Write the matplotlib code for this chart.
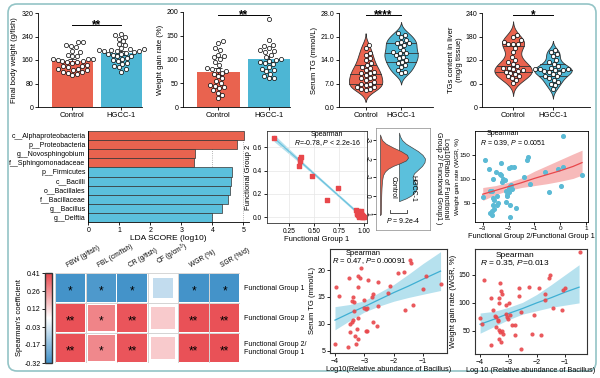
import numpy as np
import matplotlib
matplotlib.use('Agg')
import matplotlib.pyplot as plt
from matplotlib.patches import Rectangle, FancyBboxPatch
from matplotlib.colors import LinearSegmentedColormap, Normalize
from matplotlib.cm import ScalarMappable

plt.rcParams['font.family'] = ['Liberation Sans', 'DejaVu Sans']
plt.rcParams['font.size'] = 5
plt.rcParams['mathtext.fontset'] = 'custom'
plt.rcParams['mathtext.it'] = 'Liberation Sans:italic'
plt.rcParams['mathtext.rm'] = 'Liberation Sans'
plt.rcParams['axes.linewidth'] = 0.6
for a in ['xtick', 'ytick']:
    plt.rcParams[a + '.major.size'] = 2
    plt.rcParams[a + '.major.width'] = 0.6
    plt.rcParams[a + '.major.pad'] = 1.5
    plt.rcParams[a + '.labelsize'] = 5

RED = '#E9634F'
BLUE = '#4DB6D4'

# ---- data: top row ----
groups = ['Control', 'HGCC-1']
fbw_ctrl = [222, 220, 212, 208, 205, 192, 188, 178, 175, 172, 165, 163, 162, 160, 156, 155,
            154, 152, 150, 142, 140, 138, 136, 130, 128, 127, 125, 120, 118, 115, 112, 110]
fbw_hgcc = [250, 245, 240, 232, 225, 215, 210, 200, 198, 196, 195, 194, 192, 190, 190, 188,
            185, 182, 180, 178, 175, 172, 168, 165, 160, 155, 150, 148, 140, 135, 128, 120]
wgr_ctrl = [138, 135, 125, 120, 110, 107, 105, 100, 95, 88, 82, 80, 78, 75, 72, 70, 65, 60,
            55, 50, 46, 45, 42, 40, 35, 30, 25, 18]
wgr_hgcc = [185, 140, 130, 128, 125, 120, 118, 115, 110, 105, 100, 98, 97, 95, 92, 90, 85,
            80, 78, 75, 70, 65, 62, 60]
tg_ctrl = [18.5, 17.5, 16, 15.5, 14.5, 14, 13, 12.5, 12, 11.5, 11, 10.5, 10, 10, 9.5, 9,
           8.5, 8.5, 8, 7.5, 7, 7, 6.5, 6, 6, 5.5, 5.5, 5]
tg_hgcc = [22, 21.5, 21, 20, 19.5, 19, 19, 18.5, 18, 17, 16.5, 16, 16, 15.5, 15, 14.5, 14,
           13.5, 13, 12.5, 12, 11, 10.5, 10]
liver_ctrl = [185, 178, 170, 165, 162, 160, 160, 150, 140, 128, 120, 115, 110, 105, 100, 100,
              98, 95, 92, 90, 88, 85, 80, 78, 75, 70, 62]
liver_hgcc = [145, 140, 135, 130, 120, 115, 110, 105, 100, 98, 97, 96, 95, 95, 92, 90, 88,
              85, 80, 78, 75, 70, 65, 60, 55, 45]

# ---- data: LEfSe ----
lda_taxa = ['c__Alphaproteobacteria', 'p__Proteobacteria', 'g__Novosphingobium',
            'f__Sphingomonadaceae', 'p__Firmicutes', 'c__Bacilli', 'o__Bacillales',
            'f__Bacillaceae', 'g__Bacillus', 'g__Delftia']
lda_score = [5.03, 4.79, 3.43, 3.41, 4.65, 4.61, 4.57, 4.52, 4.32, 4.0]
lda_group = ['Control'] * 4 + ['HGCC-1'] * 6

# ---- data: functional group scatter ----
fg1 = [0.10, 0.35, 0.36, 0.36, 0.37, 0.48, 0.63, 0.74, 0.92, 0.93, 0.94, 0.94, 0.95, 0.95,
       0.96, 0.96, 0.97, 0.97, 0.98, 0.98, 0.99, 0.99, 1.0, 0.93, 0.95, 0.97]
fg2 = [0.68, 0.44, 0.48, 0.50, 0.52, 0.35, 0.15, 0.25, 0.06, 0.04, 0.05, 0.02, 0.03, 0.01,
       0.04, 0.02, 0.01, 0.03, 0.00, 0.02, 0.01, 0.00, 0.00, 0.03, 0.00, 0.05]
fg_fit_x = [0.10, 0.40, 0.70, 1.00]
fg_fit_y = [0.68, 0.45, 0.22, -0.01]
fg_fit_lo = [0.65, 0.435, 0.208, -0.024]
fg_fit_hi = [0.71, 0.465, 0.232, 0.004]

# ---- data: ratio density ----
ctrl_ratio = [-3.3, -3.0, -2.8, -2.6, -2.4, -2.2, -2.05, -1.9, -1.75, -1.6, -1.45, -1.3,
              -1.1, -0.8, -0.4, 0.0, 0.5, 1.0, 1.05]
ctrl_dens = [0, 2, 6, 13, 21, 27, 28, 26, 20, 13, 8, 5, 3, 2, 1.5, 1.2, 1, 0.8, 0]
hgcc_ratio = [-3.4, -3.2, -3.0, -2.8, -2.6, -2.4, -2.2, -2.0, -1.8, -1.6, -1.4, -1.2, -1.0,
              -0.8, -0.6, -0.4, -0.2, 0.0, 0.15, 0.3]
hgcc_dens = [0, 1, 3, 7, 13, 19, 23.5, 26, 25.5, 23, 19, 15, 13.5, 15, 17.5, 17.5, 16, 12, 7, 0]

# ---- data: WGR vs ratio ----
ratio_x = [-3.0, -2.9, -2.75, -2.6, -2.65, -2.6, -2.55, -2.6, -2.65, -2.7, -2.65, -2.55, -2.45,
           -2.4, -2.35, -2.3, -2.3, -2.2, -2.15, -2.25, -2.1, -2.05, -2.0, -1.95, -1.9, -2.0,
           -1.85, -2.5, -2.0, -1.9, -1.8, -2.05, -1.95, -1.95, -1.7, -1.4, -1.3, -1.25, -1.15,
           -0.6, -0.1, 0.1, 0.05, -0.45, 0.85, 0.1, -2.45, -2.7, -2.1]
ratio_wgr = [62, 140, 121, 100, 75, 60, 55, 45, 32, 28, 25, 38, 45, 50, 110, 108, 133, 100, 97,
             93, 75, 67, 72, 85, 88, 80, 78, 115, 122, 125, 125, 65, 45, 20, 40, 105, 140, 145,
             90, 115, 120, 125, 85, 72, 108, 190, 65, 75, 52]
ratio_fit_x = [-3, -2.5, -2, -1.5, -1, -0.5, 0, 0.5, 0.85]
ratio_fit_y = [68, 76, 84, 92, 101, 109, 117, 126, 134]
ratio_fit_lo = [55, 67, 76, 82, 86, 90, 95, 101, 108]
ratio_fit_hi = [82, 86, 93, 102, 116, 128, 140, 152, 160]

# ---- data: correlation heatmap ----
traits = ['FBW (g/fish)', 'FBL (cm/fish)', 'CR (g/fish)', 'CF (g/cm$^3$)', 'WGR (%)', 'SGR (%/d)']
fgroups = ['Functional Group 1', 'Functional Group 2', 'Functional Group 2/\nFunctional Group 1']
rho = [[-0.31, -0.29, -0.31, -0.07, -0.31, -0.31],
       [0.39, 0.29, 0.38, 0.15, 0.39, 0.39],
       [0.39, 0.28, 0.38, 0.15, 0.39, 0.39]]
sig = [['*', '*', '*', '', '*', '*'],
       ['**', '*', '**', '', '**', '**'],
       ['**', '*', '**', '', '**', '**']]
cb_ticks = [0.41, 0.26, 0.12, -0.03, -0.17, -0.32]

# ---- data: Bacillus scatters ----
bac_tg_x = [-4.0, -3.96, -3.85, -3.52, -3.57, -3.49, -3.49, -3.41, -3.43, -3.38, -3.34, -3.34,
            -3.38, -3.32, -3.28, -3.24, -3.2, -3.2, -3.2, -3.2, -3.15, -3.11, -3.0, -3.0, -2.95,
            -2.92, -2.94, -2.9, -2.89, -2.75, -2.71, -2.69, -2.56, -2.52, -2.54, -2.18, -2.12,
            -1.84, -1.65, -1.61, -1.44, -1.42, -1.33, -1.01, -0.9, -0.4]
bac_tg_y = [6.2, 16.9, 15.1, 18.6, 5.7, 8.5, 9.9, 10.4, 14.2, 15.0, 14.0, 12.4, 10.7, 7.8, 6.2,
            9.0, 7.2, 11.1, 16.9, 18.9, 18.6, 20.3, 14.5, 12.9, 8.7, 8.6, 12.8, 13.0, 18.2, 14.9,
            15.5, 10.4, 9.7, 13.3, 17.8, 15.7, 17.1, 19.4, 19.7, 12.5, 21.9, 21.3, 13.6, 16.5,
            18.9, 17.4]
bac_tg_fit_x = [-4, -3.5, -3, -2.5, -2, -1.5, -1, -0.4]
bac_tg_fit_y = [10.7, 12.0, 13.2, 14.5, 15.8, 17.0, 18.3, 19.8]
bac_tg_fit_lo = [8.9, 10.6, 12.2, 13.3, 14.2, 14.9, 15.5, 16.2]
bac_tg_fit_hi = [13.2, 13.6, 14.3, 15.8, 17.3, 19.2, 21.2, 23.4]

bac_wgr_x = [-4.0, -3.94, -3.85, -3.6, -3.6, -3.53, -3.49, -3.43, -3.43, -3.37, -3.35, -3.34,
             -3.32, -3.32, -3.32, -3.29, -3.27, -3.29, -3.27, -3.23, -3.21, -3.19, -3.1, -3.08,
             -3.04, -3.0, -2.98, -2.96, -2.87, -2.77, -2.75, -2.63, -2.61, -2.54, -2.54, -2.26,
             -2.09, -2.17, -1.92, -1.83, -1.72, -1.72, -1.56, -1.54, -1.42, -1.1, -1.06, -1.0,
             -0.47]
bac_wgr_y = [73, 62, 140, 25, 108, 88, 77, 75, 57, 70, 68, 100, 108, 51, 35, 48, 30, 135, 121,
             115, 50, 44, 97, 80, 75, 72, 100, 78, 61, 43, 61, 127, 113, 18, 84, 129, 78, 44,
             127, 43, 115, 105, 145, 150, 91, 88, 123, 127, 190]
bac_wgr_fit_x = [-4, -3.5, -3, -2.5, -2, -1.5, -1, -0.5]
bac_wgr_fit_y = [62, 71, 81, 90, 100, 109, 119, 128]
bac_wgr_fit_lo = [46, 58, 70, 80, 86, 92, 96, 100]
bac_wgr_fit_hi = [82, 85, 92, 101, 115, 132, 150, 168]

W, H = 600, 378
fig = plt.figure(figsize=(6, 3.78), dpi=100)


def ax_px(l, t, r, b, **kw):
    return fig.add_axes([l / W, 1 - b / H, (r - l) / W, (b - t) / H], **kw)


# outer rounded frame
bg = ax_px(0, 0, W, H, zorder=-10)
bg.set_xlim(0, W)
bg.set_ylim(H, 0)
bg.axis('off')
bg.add_patch(FancyBboxPatch((8, 4), 588, 367, boxstyle='round,pad=0,rounding_size=9',
                            fc='white', ec='#93c4c6', lw=1.2))


def swarm(ax, x0, vals, d=5.0):
    vals = np.asarray(vals, float)
    t = ax.transData
    ypx = t.transform(np.c_[np.zeros(len(vals)), vals])[:, 1]
    sx = t.transform((1, 0))[0] - t.transform((0, 0))[0]
    xs = np.zeros(len(vals))
    placed = []
    for i in np.argsort(ypx):
        cands = [0.0]
        for px, py in placed:
            dy = ypx[i] - py
            if abs(dy) < d:
                dx = np.sqrt(d * d - dy * dy)
                cands += [px + dx, px - dx]
        cands.sort(key=abs)
        for c in cands:
            if all((c - px) ** 2 + (ypx[i] - py) ** 2 >= d * d - 1e-6 for px, py in placed):
                xs[i] = c
                break
        placed.append((xs[i], ypx[i]))
    return x0 + xs / sx


def clean(ax):
    ax.spines['top'].set_visible(False)
    ax.spines['right'].set_visible(False)


def sig_line(ax, y, stars):
    ax.plot([0, 1], [y, y], color='black', lw=0.7, clip_on=False)
    ax.annotate(stars, (0.5, y), xytext=(0, -2.2), textcoords='offset points',
                ha='center', va='baseline', fontsize=8.5, fontweight='bold',
                annotation_clip=False)


def bar_panel(ax, ctrl, hgcc, ymax, ticks, ylabel, stars, sig_y):
    ax.set_xlim(-0.7, 1.42)
    ax.set_ylim(0, ymax)
    ax.set_yticks(ticks)
    for i, (v, c) in enumerate([(ctrl, RED), (hgcc, BLUE)]):
        m = np.mean(v)
        se = np.std(v, ddof=1) / np.sqrt(len(v))
        ax.bar(i, m, width=0.84, color=c, zorder=1)
        ax.errorbar(i, m, yerr=se, color='#222', capsize=3, lw=0.6, capthick=0.6, zorder=3)
        ax.scatter(swarm(ax, i, v), v, s=9, fc='white', ec='black', lw=0.5, zorder=4,
                   clip_on=False)
    ax.set_xticks([0, 1])
    ax.set_xticklabels(groups, fontsize=5.5)
    ax.set_ylabel(ylabel, fontsize=5.5, labelpad=2)
    clean(ax)
    sig_line(ax, sig_y, stars)


def violin_panel(ax, ctrl, hgcc, ymax, ticks, fmt, ylabel, stars, sig_y, xlim):
    ax.set_xlim(*xlim)
    ax.set_ylim(0, ymax)
    ax.set_yticks(ticks)
    ax.set_yticklabels([fmt % t for t in ticks])
    for i, (v, c) in enumerate([(ctrl, RED), (hgcc, BLUE)]):
        v = np.asarray(v, float)
        bw = 0.8 * v.std(ddof=1) * len(v) ** -0.2
        ys = np.linspace(v.min() - 2.2 * bw, v.max() + 2.2 * bw, 200)
        dens = np.exp(-0.5 * ((ys[:, None] - v[None, :]) / bw) ** 2).sum(1)
        dens = np.clip(dens - min(dens[0], dens[-1]), 0, None)
        dens = dens / dens.max() * 0.47
        ax.fill_betweenx(ys, i - dens, i + dens, color=c, ec='#333', lw=0.6, zorder=2)
        for q in np.percentile(v, [25, 50, 75]):
            w = np.interp(q, ys, dens)
            ax.plot([i - w, i + w], [q, q], color='#333', lw=0.6, zorder=3)
        ax.scatter(swarm(ax, i, v, 4.6), v, s=9, fc='white', ec='black', lw=0.5, zorder=4)
    ax.set_xticks([0, 1])
    ax.set_xticklabels(groups, fontsize=5.5)
    ax.set_ylabel(ylabel, fontsize=5.5, labelpad=2)
    clean(ax)
    sig_line(ax, sig_y, stars)


ax1 = ax_px(38, 13, 142, 107)
bar_panel(ax1, fbw_ctrl, fbw_hgcc, 320, [0, 80, 160, 240, 320],
          'Final body weight (g/fish)', '**', 280)
ax2 = ax_px(183, 12, 290, 107)
bar_panel(ax2, wgr_ctrl, wgr_hgcc, 200, [0, 50, 100, 150, 200],
          'Weight gain rate (%)', '**', 193)
ax3 = ax_px(339, 13, 433, 107)
violin_panel(ax3, tg_ctrl, tg_hgcc, 28, [0, 7, 14, 21, 28], '%.1f',
             'Serum TG (mmol/L)', '****', 27.3, (-0.75, 1.9))
ax4 = ax_px(482, 13, 590, 107)
violin_panel(ax4, liver_ctrl, liver_hgcc, 240, [0, 60, 120, 180, 240], '%d',
             'TGs content in liver\n(mg/g tissue)', '*', 235, (-0.78, 1.93))

# ---- LDA bars ----
axl = ax_px(88.3, 131, 248.6, 222)
ypos = np.arange(len(lda_taxa))
cols = [RED if g == 'Control' else '#5BC0DC' for g in lda_group]
axl.barh(ypos, lda_score, height=1.0, color=cols, ec='#333', lw=0.5, zorder=2)
axl.set_ylim(len(lda_taxa) - 0.5, -0.5)
axl.set_xlim(0, 5.17)
axl.set_yticks(ypos)
axl.set_yticklabels(lda_taxa, fontsize=5)
axl.tick_params(axis='y', length=0, pad=2)
axl.set_xticks([0, 1, 2, 3, 4, 5])
axl.grid(axis='x', ls=':', color='#999', lw=0.6, zorder=0)
axl.set_xlabel('LDA SCORE (log10)', fontsize=6, labelpad=1)
clean(axl)

# ---- FG1 vs FG2 scatter ----
axs1 = ax_px(267, 131, 367, 223)
axs1.set_xlim(0.03, 1.03)
axs1.set_ylim(-0.05, 0.74)
axs1.grid(color='#e6e6e6', lw=0.5, zorder=0)
axs1.fill_between(fg_fit_x, fg_fit_lo, fg_fit_hi, color='#b5e1ee', lw=0, zorder=1)
axs1.plot(fg_fit_x, fg_fit_y, color='#6cc3de', lw=0.9, zorder=2)
axs1.scatter(fg1, fg2, marker='s', s=6, color='#E8474B', zorder=3)
axs1.set_xticks([0.25, 0.5, 0.75, 1.0])
axs1.set_xticklabels(['0.25', '0.50', '0.75', '1.00'])
axs1.set_yticks([0, 0.2, 0.4, 0.6])
axs1.set_yticklabels(['0.0', '0.2', '0.4', '0.6'])
axs1.tick_params(labelsize=4.8)
axs1.set_xlabel('Functional Group 1', fontsize=5.5, labelpad=1)
axs1.set_ylabel('Functional Group 2', fontsize=5.5, labelpad=1)
axs1.text(0.6, 0.965, 'Spearman', transform=axs1.transAxes, ha='center', va='center',
          fontsize=5)
axs1.text(0.61, 0.87, r'$\it{R}$=-0.78, $\it{P}$ < 2.2e-16', transform=axs1.transAxes,
          ha='center', va='center', fontsize=5)
for s in axs1.spines.values():
    s.set_color('#333')

# ---- ratio density ----
axd = ax_px(376, 128, 430, 230)
axd.set_xlim(0, 54)
axd.set_ylim(1.86, -3.65)
axd.fill_betweenx(hgcc_ratio, 23, 23 + np.array(hgcc_dens), color='#5BC0DC', ec='#444',
                  lw=0.5, zorder=2)
axd.fill_betweenx(ctrl_ratio, 4, 4 + np.array(ctrl_dens), color=RED, ec='#444', lw=0.5, zorder=3)
axd.set_yticks([-3, -2, -1, 0, 1])
axd.set_yticklabels(['-3', '-2', '-1', '0', '1'], rotation=270, va='center')
axd.tick_params(axis='y', labelsize=4.8)
axd.set_xticks([])
for s in axd.spines.values():
    s.set_color('#888')
    s.set_linewidth(0.5)
axd.text(17, -0.45, 'Control', rotation=270, ha='center', va='center', fontsize=5)
axd.text(37, -0.4, 'HGCC-1', rotation=270, ha='center', va='center', fontsize=5)
axd.plot([14, 14, 31, 31], [0.8, 0.95, 0.95, 0.8], color='#333', lw=0.6)
axd.text(27, 1.32, r'$\it{P}$ = 9.2e-4', ha='center', va='center', fontsize=5)
fig.text(442 / W, 1 - 178 / H, 'Log10(Ratio of Functional\nGroup 2/ Functional Group1 )',
         rotation=270, ha='center', va='center', fontsize=5, linespacing=1.05)

# ---- WGR vs ratio ----
axs3 = ax_px(475, 131, 588, 222)
axs3.set_xlim(-3.3, 1.08)
axs3.set_ylim(10, 200)
axs3.fill_between(ratio_fit_x, ratio_fit_lo, ratio_fit_hi, color='#F5A9A9', alpha=0.8, lw=0,
                  zorder=1)
axs3.plot(ratio_fit_x, ratio_fit_y, color='#E8474B', lw=0.9, zorder=3)
axs3.scatter(ratio_x, ratio_wgr, s=7, color='#5BBAD5', zorder=2)
axs3.set_xticks([-3, -2, -1, 0, 1])
axs3.set_yticks([50, 100, 150])
axs3.tick_params(labelsize=4.6, pad=1)
axs3.set_xlabel('Functional Group 2/Functional Group 1', fontsize=5.3, labelpad=1)
axs3.set_ylabel('Weight gain rate (WGR, %)', fontsize=4.6)
axs3.yaxis.set_label_coords(-0.135, 0.5)
axs3.text(0.25, 0.975, 'Spearman', transform=axs3.transAxes, ha='center', va='center',
          fontsize=5)
axs3.text(0.045, 0.87, r'$\it{R}$ = 0.39, $\it{P}$ = 0.0051', transform=axs3.transAxes,
          ha='left', va='center', fontsize=5)

# ---- heatmap ----
axh = ax_px(55, 273, 240, 363)
axh.set_xlim(0, 6)
axh.set_ylim(3, 0)
axh.axis('off')
cmap = LinearSegmentedColormap.from_list('rb', ['#3f90c8', '#ffffff', '#e8474d'])
norm = Normalize(-0.32, 0.41)
for j in range(3):
    for i in range(6):
        r = rho[j][i]
        axh.add_patch(Rectangle((i, j), 1, 1, fc='white', ec='#d0d0d0', lw=0.6))
        side = 0.97 * min(1.0, (abs(r) / (0.41 if r > 0 else 0.32)) ** 0.25)
        axh.add_patch(Rectangle((i + 0.5 - side / 2, j + 0.5 - side / 2), side, side,
                                fc=cmap(norm(r)), ec='none'))
        if sig[j][i]:
            axh.text(i + 0.5, j + 0.62, sig[j][i], ha='center', va='center', fontsize=8.5)
for i, t in enumerate(traits):
    axh.text(i + 0.45, -0.12, t, rotation=30, ha='left', va='bottom', fontsize=4.8,
             rotation_mode='anchor')
for j, g in enumerate(fgroups):
    axh.text(6.12, j + 0.5, g, ha='left', va='center', fontsize=5, linespacing=1.2)

axcb = ax_px(45, 273, 52, 363)
cb = fig.colorbar(ScalarMappable(norm=norm, cmap=cmap), cax=axcb)
cb.set_ticks(cb_ticks)
cb.set_ticklabels(['%.2f' % t for t in cb_ticks])
axcb.yaxis.set_ticks_position('left')
axcb.tick_params(labelsize=5, length=2, pad=1)
cb.outline.set_linewidth(1.0)
cb.outline.set_edgecolor('#333')
fig.text(20 / W, 1 - 318 / H, "Spearman's coefficient", rotation=90, ha='center',
         va='center', fontsize=5.5)


# ---- Bacillus scatters ----
def bac_panel(ax, x, y, fx, fy, flo, fhi, xlim, ylim, yticks, ylabel, xlabel, txt, tpos, fs):
    ax.set_xlim(*xlim)
    ax.set_ylim(*ylim)
    ax.fill_between(fx, flo, fhi, color='#A9DCEC', alpha=0.85, lw=0, zorder=1)
    ax.plot(fx, fy, color='#3FAFD3', lw=0.9, zorder=2)
    ax.scatter(x, y, s=9, color='#E8474B', alpha=0.9, lw=0, zorder=3)
    ax.set_xticks([-4, -3, -2, -1])
    ax.set_yticks(yticks)
    ax.set_ylabel(ylabel, fontsize=5.5, labelpad=1)
    ax.set_xlabel(xlabel, fontsize=5.3, labelpad=1)
    ax.text(tpos[0], tpos[1], 'Spearman', transform=ax.transAxes, ha='center', va='top',
            fontsize=fs)
    ax.text(tpos[2], tpos[3], txt, transform=ax.transAxes, ha='left', va='center', fontsize=fs)
    for s in ax.spines.values():
        s.set_color('#333')
        s.set_linewidth(0.8)


axs4 = ax_px(330, 249, 447, 353)
bac_panel(axs4, bac_tg_x, bac_tg_y, bac_tg_fit_x, bac_tg_fit_y, bac_tg_fit_lo, bac_tg_fit_hi,
          (-4.17, -0.18), (4.6, 23.9), [5, 10, 15, 20], 'Serum TG (mmol/L)',
          'Log10(Relative abundance of Bacillus)', r'$\it{R}$ = 0.47, $\it{P}$= 0.00091',
          (0.28, 0.99, 0.02, 0.885), 5.5)
axs5 = ax_px(475, 249, 587, 354)
bac_panel(axs5, bac_wgr_x, bac_wgr_y, bac_wgr_fit_x, bac_wgr_fit_y, bac_wgr_fit_lo,
          bac_wgr_fit_hi, (-4.18, -0.22), (9, 196), [50, 100, 150], 'Weight gain rate (WGR, %)',
          'Log 10 (Relative abundance of Bacillus)', r'$\it{R}$ = 0.35, $\it{P}$=0.013',
          (0.36, 0.97, 0.045, 0.87), 6)

fig.savefig('out.png', dpi=100)
